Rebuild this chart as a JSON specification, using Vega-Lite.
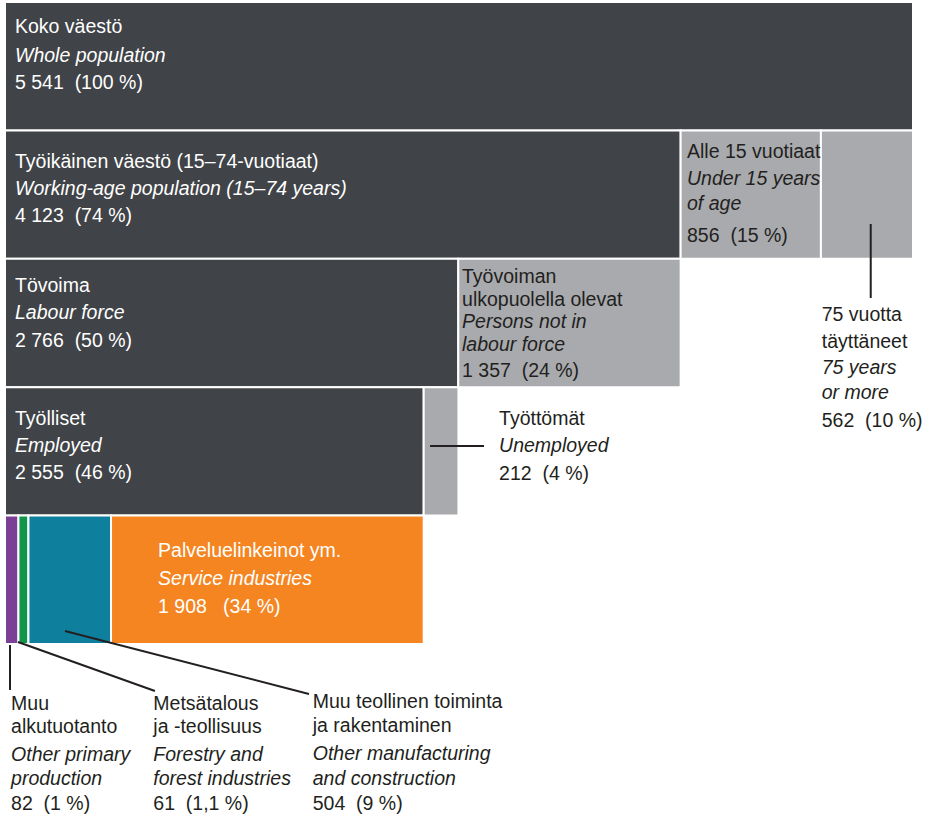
{
  "$schema": "https://vega.github.io/schema/vega-lite/v6.json",
  "width": 927,
  "height": 818,
  "autosize": {"type": "none"},
  "padding": 0,
  "background": "white",
  "config": {"view": {"stroke": null}, "text": {"font": "Liberation Sans"}},
  "datasets": {
    "blocks": [
      {"level": 0, "order": 1, "name": "Whole population", "value": 5541, "tone": "main"},
      {"level": 1, "order": 1, "name": "Working-age population", "value": 4123, "tone": "main"},
      {"level": 1, "order": 2, "name": "Under 15", "value": 856, "tone": "other"},
      {"level": 1, "order": 3, "name": "75 or more", "value": 562, "tone": "other"},
      {"level": 2, "order": 1, "name": "Labour force", "value": 2766, "tone": "main"},
      {"level": 2, "order": 2, "name": "Not in labour force", "value": 1357, "tone": "other"},
      {"level": 3, "order": 1, "name": "Employed", "value": 2555, "tone": "main"},
      {"level": 3, "order": 2, "name": "Unemployed", "value": 212, "tone": "other"},
      {"level": 4, "order": 1, "name": "Other primary production", "value": 82, "tone": "primary"},
      {"level": 4, "order": 2, "name": "Forestry", "value": 61, "tone": "forestry"},
      {"level": 4, "order": 3, "name": "Manufacturing and construction", "value": 504, "tone": "manufacturing"},
      {"level": 4, "order": 4, "name": "Service industries", "value": 1908, "tone": "services"}
    ],
    "leaders": [
      {"x": 30.5, "y": 4.508, "x2": 30.5, "y2": 4.858},
      {"x": 79, "y": 4.484, "x2": 915, "y2": 4.866},
      {"x": 366, "y": 4.399, "x2": 1855, "y2": 4.889},
      {"x": 2594, "y": 2.958, "x2": 2923, "y2": 2.958},
      {"x": 5283, "y": 1.229, "x2": 5283, "y2": 1.805}
    ],
    "labels": [
      {"x": 61, "y": -0.259, "t": "Koko väestö", "kind": "fi", "bg": "dark"},
      {"x": 61, "y": -0.033, "t": "Whole population", "kind": "en", "bg": "dark"},
      {"x": 61, "y": 0.178, "t": "5 541\u00a0 (100 %)", "kind": "num", "bg": "dark"},

      {"x": 61, "y": 0.793, "t": "Työikäinen väestö (15–74-vuotiaat)", "kind": "fi", "bg": "dark"},
      {"x": 61, "y": 1.003, "t": "Working-age population (15–74 years)", "kind": "en", "bg": "dark"},
      {"x": 61, "y": 1.213, "t": "4 123\u00a0 (74 %)", "kind": "num", "bg": "dark"},

      {"x": 4162, "y": 0.715, "t": "Alle 15 vuotiaat", "kind": "fi", "bg": "light"},
      {"x": 4162, "y": 0.925, "t": "Under 15 years", "kind": "en", "bg": "light"},
      {"x": 4162, "y": 1.120, "t": "of age", "kind": "en", "bg": "light"},
      {"x": 4162, "y": 1.369, "t": "856\u00a0 (15 %)", "kind": "num", "bg": "light"},

      {"x": 61, "y": 1.759, "t": "Tövoima", "kind": "fi", "bg": "dark"},
      {"x": 61, "y": 1.969, "t": "Labour force", "kind": "en", "bg": "dark"},
      {"x": 61, "y": 2.187, "t": "2 766\u00a0 (50 %)", "kind": "num", "bg": "dark"},

      {"x": 2789, "y": 1.688, "t": "Työvoiman", "kind": "fi", "bg": "light"},
      {"x": 2789, "y": 1.868, "t": "ulkopuolella olevat", "kind": "fi", "bg": "light"},
      {"x": 2789, "y": 2.039, "t": "Persons not in", "kind": "en", "bg": "light"},
      {"x": 2789, "y": 2.218, "t": "labour force", "kind": "en", "bg": "light"},
      {"x": 2789, "y": 2.421, "t": "1 357\u00a0 (24 %)", "kind": "num", "bg": "light"},

      {"x": 4984, "y": 1.984, "t": "75 vuotta", "kind": "fi", "bg": "none"},
      {"x": 4984, "y": 2.195, "t": "täyttäneet", "kind": "fi", "bg": "none"},
      {"x": 4984, "y": 2.397, "t": "75 years", "kind": "en", "bg": "none"},
      {"x": 4984, "y": 2.592, "t": "or more", "kind": "en", "bg": "none"},
      {"x": 4984, "y": 2.810, "t": "562\u00a0 (10 %)", "kind": "num", "bg": "none"},

      {"x": 61, "y": 2.794, "t": "Työlliset", "kind": "fi", "bg": "dark"},
      {"x": 61, "y": 3.005, "t": "Employed", "kind": "en", "bg": "dark"},
      {"x": 61, "y": 3.215, "t": "2 555\u00a0 (46 %)", "kind": "num", "bg": "dark"},

      {"x": 3015, "y": 2.794, "t": "Työttömät", "kind": "fi", "bg": "none"},
      {"x": 3015, "y": 3.005, "t": "Unemployed", "kind": "en", "bg": "none"},
      {"x": 3015, "y": 3.223, "t": "212\u00a0 (4 %)", "kind": "num", "bg": "none"},

      {"x": 934, "y": 3.822, "t": "Palveluelinkeinot ym.", "kind": "fi", "bg": "orange"},
      {"x": 934, "y": 4.040, "t": "Service industries", "kind": "en", "bg": "orange"},
      {"x": 934, "y": 4.259, "t": "1 908\u00a0\u00a0 (34 %)", "kind": "num", "bg": "orange"},

      {"x": 37, "y": 5.014, "t": "Muu", "kind": "fi", "bg": "none"},
      {"x": 37, "y": 5.193, "t": "alkutuotanto", "kind": "fi", "bg": "none"},
      {"x": 37, "y": 5.411, "t": "Other primary", "kind": "en", "bg": "none"},
      {"x": 37, "y": 5.598, "t": "production", "kind": "en", "bg": "none"},
      {"x": 37, "y": 5.793, "t": "82\u00a0 (1 %)", "kind": "num", "bg": "none"},

      {"x": 905, "y": 5.014, "t": "Metsätalous", "kind": "fi", "bg": "none"},
      {"x": 905, "y": 5.193, "t": "ja -teollisuus", "kind": "fi", "bg": "none"},
      {"x": 905, "y": 5.411, "t": "Forestry and", "kind": "en", "bg": "none"},
      {"x": 905, "y": 5.598, "t": "forest industries", "kind": "en", "bg": "none"},
      {"x": 905, "y": 5.793, "t": "61\u00a0 (1,1 %)", "kind": "num", "bg": "none"},

      {"x": 1878, "y": 5.000, "t": "Muu teollinen toiminta", "kind": "fi", "bg": "none"},
      {"x": 1878, "y": 5.183, "t": "ja rakentaminen", "kind": "fi", "bg": "none"},
      {"x": 1878, "y": 5.405, "t": "Other manufacturing", "kind": "en", "bg": "none"},
      {"x": 1878, "y": 5.598, "t": "and construction", "kind": "en", "bg": "none"},
      {"x": 1878, "y": 5.793, "t": "504\u00a0 (9 %)", "kind": "num", "bg": "none"}
    ]
  },
  "layer": [
    {
      "data": {"name": "blocks"},
      "transform": [
        {"stack": "value", "groupby": ["level"], "sort": [{"field": "order"}], "as": ["x0", "x1"]}
      ],
      "mark": {"type": "bar", "size": 128.4, "stroke": "white", "strokeWidth": 2, "orient": "horizontal"},
      "encoding": {
        "x": {"field": "x0", "type": "quantitative", "scale": {"domain": [-30.51, 5626.4], "nice": false, "zero": false, "padding": 0}, "axis": null},
        "x2": {"field": "x1"},
        "y": {"field": "level", "type": "quantitative", "scale": {"domain": [-0.5156, 5.8551], "nice": false, "zero": false, "reverse": true, "padding": 0}, "axis": null},
        "fill": {
          "field": "tone", "type": "nominal", "legend": null,
          "scale": {
            "domain": ["main", "other", "primary", "forestry", "manufacturing", "services"],
            "range": ["#404347", "#a8aaad", "#7c3f98", "#12944a", "#0e7f9d", "#f48521"]
          }
        }
      }
    },
    {
      "data": {"name": "leaders"},
      "mark": {"type": "rule", "strokeWidth": 2, "color": "#231f20"},
      "encoding": {
        "x": {"field": "x", "type": "quantitative"},
        "x2": {"field": "x2"},
        "y": {"field": "y", "type": "quantitative"},
        "y2": {"field": "y2"}
      }
    },
    {
      "data": {"name": "labels"},
      "transform": [{"filter": "datum.kind !== 'en'"}],
      "mark": {"type": "text", "align": "left", "baseline": "alphabetic", "fontSize": 19.5},
      "encoding": {
        "x": {"field": "x", "type": "quantitative"},
        "y": {"field": "y", "type": "quantitative"},
        "text": {"field": "t"},
        "color": {
          "field": "bg", "type": "nominal", "legend": null,
          "scale": {"domain": ["dark", "light", "none", "orange"], "range": ["#ffffff", "#231f20", "#231f20", "#ffffff"]}
        }
      }
    },
    {
      "data": {"name": "labels"},
      "transform": [{"filter": "datum.kind === 'en'"}],
      "mark": {"type": "text", "align": "left", "baseline": "alphabetic", "fontSize": 19.5, "fontStyle": "italic"},
      "encoding": {
        "x": {"field": "x", "type": "quantitative"},
        "y": {"field": "y", "type": "quantitative"},
        "text": {"field": "t"},
        "color": {
          "field": "bg", "type": "nominal", "legend": null,
          "scale": {"domain": ["dark", "light", "none", "orange"], "range": ["#ffffff", "#231f20", "#231f20", "#ffffff"]}
        }
      }
    }
  ]
}
